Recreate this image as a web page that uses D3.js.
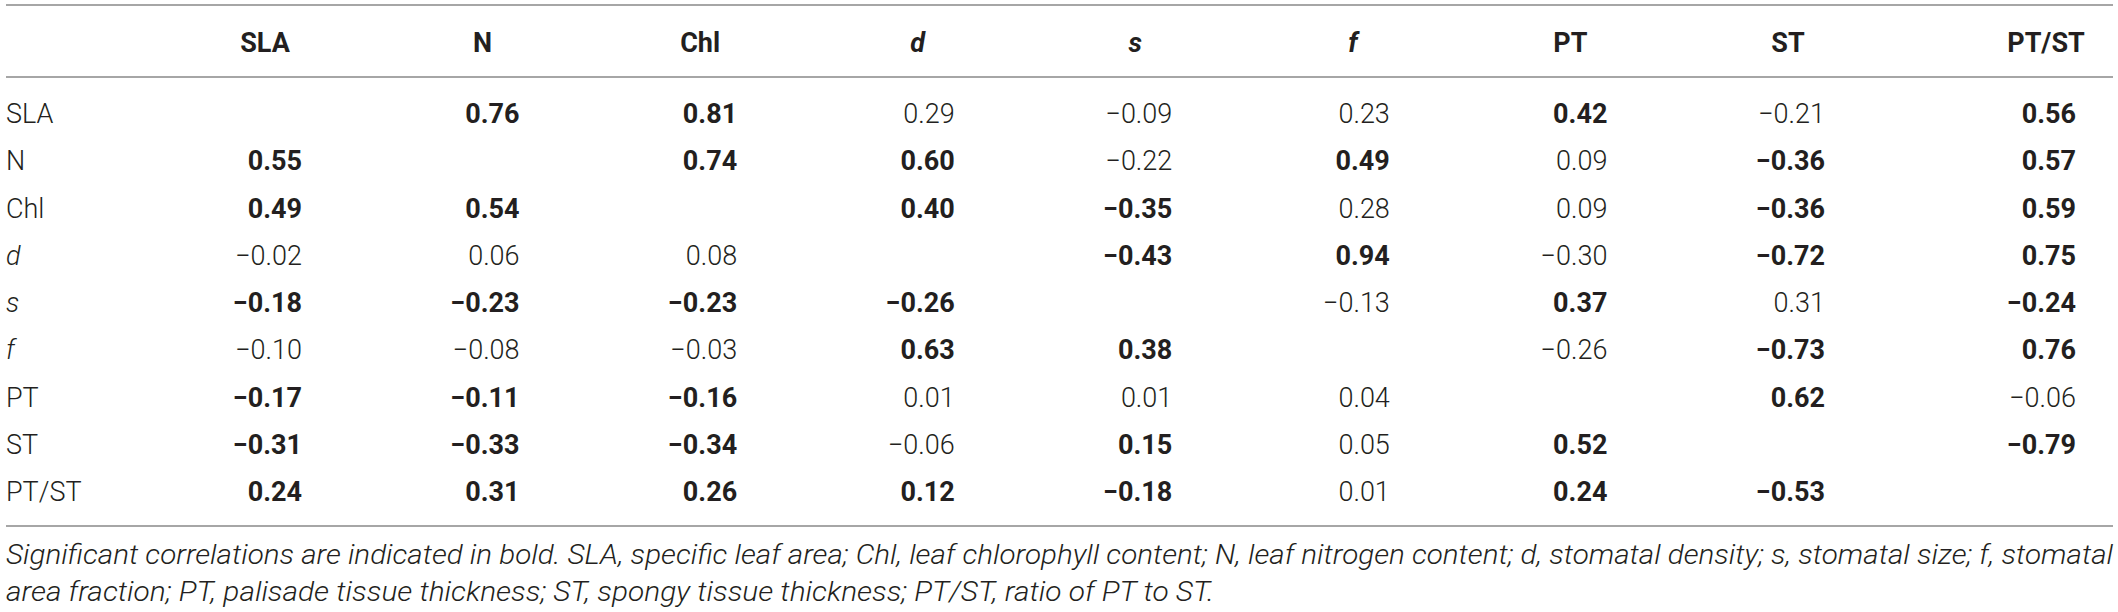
<!DOCTYPE html>
<html>
<head>
<meta charset="utf-8">
<script src="https://cdn.jsdelivr.net/npm/d3@7"></script>
<style>
  html, body { margin: 0; padding: 0; background: #fff; }
  svg text { font-family: Roboto, "Liberation Sans", sans-serif; fill: #231f20; }
</style>
</head>
<body>
<div id="table"></div>
<script>
// trait names (rows and columns are the same list)
var traits = ["SLA", "N", "Chl", "d", "s", "f", "PT", "ST", "PT/ST"];
var italicTraits = ["d", "s", "f"];

// correlation matrix, read row by row (null = diagonal)
var corr = [
    [null, 0.76, 0.81, 0.29, -0.09, 0.23, 0.42, -0.21, 0.56],
    [0.55, null, 0.74, 0.60, -0.22, 0.49, 0.09, -0.36, 0.57],
    [0.49, 0.54, null, 0.40, -0.35, 0.28, 0.09, -0.36, 0.59],
    [-0.02, 0.06, 0.08, null, -0.43, 0.94, -0.30, -0.72, 0.75],
    [-0.18, -0.23, -0.23, -0.26, null, -0.13, 0.37, 0.31, -0.24],
    [-0.10, -0.08, -0.03, 0.63, 0.38, null, -0.26, -0.73, 0.76],
    [-0.17, -0.11, -0.16, 0.01, 0.01, 0.04, null, 0.62, -0.06],
    [-0.31, -0.33, -0.34, -0.06, 0.15, 0.05, 0.52, null, -0.79],
    [0.24, 0.31, 0.26, 0.12, -0.18, 0.01, 0.24, -0.53, null]
];

// 1 = significant (printed in bold)
var significant = [
    [0, 1, 1, 0, 0, 0, 1, 0, 1],
    [1, 0, 1, 1, 0, 1, 0, 1, 1],
    [1, 1, 0, 1, 1, 0, 0, 1, 1],
    [0, 0, 0, 0, 1, 1, 0, 1, 1],
    [1, 1, 1, 1, 0, 0, 1, 0, 1],
    [0, 0, 0, 1, 1, 0, 0, 1, 1],
    [1, 1, 1, 0, 0, 0, 0, 1, 0],
    [1, 1, 1, 0, 1, 0, 1, 0, 1],
    [1, 1, 1, 1, 1, 0, 1, 1, 0]
];

var footnote = [
    "Significant correlations are indicated in bold. SLA, specific leaf area; Chl, leaf chlorophyll content; N, leaf nitrogen content; d, stomatal density; s, stomatal size; f, stomatal",
    "area fraction; PT, palisade tissue thickness; ST, spongy tissue thickness; PT/ST, ratio of PT to ST."
];

var width = 2118, height = 612;
var left = 6, right = 2113;
var fontSize = 27;

var svg = d3.select("#table").append("svg")
    .attr("width", width)
    .attr("height", height);

// right edge of the numbers in each column
var colX = d3.scaleLinear().domain([0, traits.length - 2]).range([302, 1825]);
function valueRight(i) {
    return i < traits.length - 1 ? colX(i) : right - 37;
}
function headerCenter(i) {
    return i < traits.length - 1 ? colX(i) - 37 : valueRight(i) - 30;
}

// row baselines
var rowY = d3.scaleLinear().domain([0, traits.length - 1]).range([123, 501]);
var headerY = 52;

var fmt = d3.format(".2f");

// rules
svg.selectAll("line.rule")
    .data([5, 77, 526])
    .enter()
    .append("line")
    .attr("class", "rule")
    .attr("x1", left)
    .attr("x2", right)
    .attr("y1", function (d) { return d; })
    .attr("y2", function (d) { return d; })
    .attr("stroke", "#a6a6a6")
    .attr("stroke-width", 2);

// header
svg.selectAll("text.head")
    .data(traits)
    .enter()
    .append("text")
    .attr("class", "head")
    .attr("x", function (d, i) { return headerCenter(i); })
    .attr("y", headerY)
    .attr("text-anchor", "middle")
    .attr("font-size", fontSize)
    .attr("font-weight", 700)
    .attr("font-style", function (d) { return italicTraits.indexOf(d) >= 0 ? "italic" : "normal"; })
    .text(function (d) { return d; });

// row labels
svg.selectAll("text.rowlabel")
    .data(traits)
    .enter()
    .append("text")
    .attr("class", "rowlabel")
    .attr("x", left)
    .attr("y", function (d, i) { return rowY(i); })
    .attr("font-size", fontSize)
    .attr("font-weight", 300)
    .attr("font-style", function (d) { return italicTraits.indexOf(d) >= 0 ? "italic" : "normal"; })
    .text(function (d) { return d; });

// cells
var rows = svg.selectAll("g.row")
    .data(corr)
    .enter()
    .append("g")
    .attr("class", "row")
    .attr("transform", function (d, i) { return "translate(0," + rowY(i) + ")"; });

rows.each(function (rowData, r) {
    d3.select(this).selectAll("text")
        .data(rowData)
        .enter()
        .append("text")
        .attr("x", function (d, c) { return valueRight(c); })
        .attr("text-anchor", "end")
        .attr("font-size", fontSize)
        .attr("font-weight", function (d, c) { return significant[r][c] ? 700 : 300; })
        .text(function (d) { return d === null ? "" : fmt(d); });
});

// footnote (justified like the printed caption)
var noteLength = [right - left, 1208];
svg.selectAll("text.note")
    .data(footnote)
    .enter()
    .append("text")
    .attr("class", "note")
    .attr("x", left)
    .attr("y", function (d, i) { return 564 + i * 37; })
    .attr("font-size", fontSize)
    .attr("font-weight", 300)
    .attr("font-style", "italic")
    .attr("textLength", function (d, i) { return noteLength[i]; })
    .attr("lengthAdjust", "spacingAndGlyphs")
    .text(function (d) { return d; });
</script>
</body>
</html>
